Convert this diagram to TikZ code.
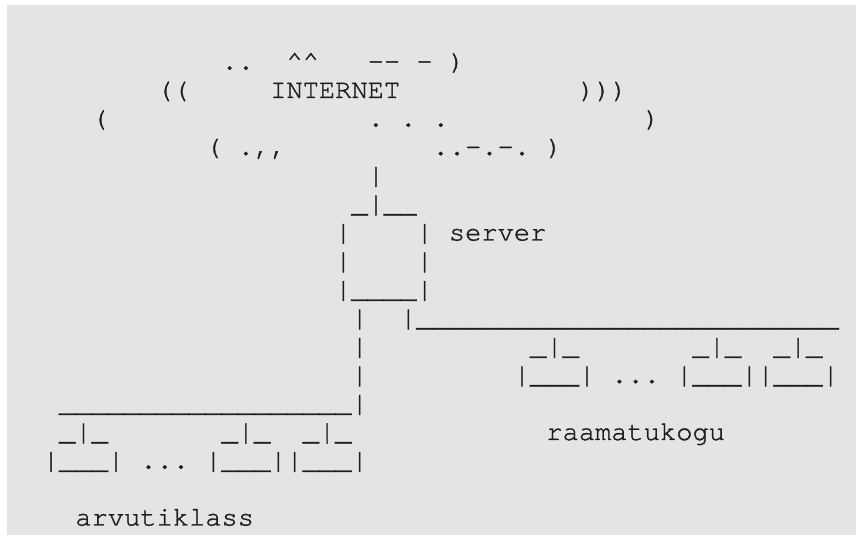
\documentclass[tikz,border=0pt]{standalone}
\usepackage{fontspec}
\setmonofont[FakeBold=1.2]{texgyrecursor-regular.otf}
\definecolor{bggray}{HTML}{E4E4E4}
\definecolor{ink}{HTML}{1E1E1E}
\newcommand\artfont{\fontsize{27.07}{28.5}\selectfont\ttfamily}
\newcommand\artrow[4]{\node[art, name=#1] at ({42.9+16.24*#3},{535-69.5-28.5*#2}) {#4};}
\newcommand\us{\_}
\newcommand\ca{\textasciicircum}
\begin{document}
\begin{tikzpicture}[x=1pt,y=1pt,
  art/.style={anchor=base west, inner sep=0pt, outer sep=0pt, font=\artfont, text=ink}]
\useasboundingbox (0,0) rectangle (856,535);
\fill[white] (0,0) rectangle (856,535);
\fill[bggray] (7,0) rectangle (856,530);
% cloud
\artrow{c0a}{0}{11}{..}
\artrow{c0b}{0}{15}{\ca\ca}
\artrow{c0c}{0}{20}{--~-~)}
\artrow{c1a}{1}{7}{((}
\artrow{c1b}{1}{14}{INTERNET}
\artrow{c1c}{1}{33}{)))}
\artrow{c2a}{2}{3}{(}
\artrow{c2b}{2}{20}{.~.~.}
\artrow{c2c}{2}{37}{)}
\artrow{c3a}{3}{10}{(~.,,}
\artrow{c3b}{3}{24}{..-.-.~)}
% server
\artrow{s4}{4}{20}{|}
\artrow{s5}{5}{19}{\us|\us\us}
\artrow{s6}{6}{18}{|~~~~|~server}
\artrow{s7}{7}{18}{|~~~~|}
\artrow{s8}{8}{18}{|\us\us\us\us|}
\artrow{s9}{9}{19}{|~~|\us\us\us\us\us\us\us\us\us\us\us\us\us\us\us\us\us\us\us\us\us\us\us\us\us\us}
% library branch
\artrow{v10}{10}{19}{|}
\artrow{l10a}{10}{30}{\us|\us}
\artrow{l10b}{10}{40}{\us|\us}
\artrow{l10c}{10}{45}{\us|\us}
\artrow{v11}{11}{19}{|}
\artrow{l11}{11}{29}{|\us\us\us|~...~|\us\us\us||\us\us\us|}
% classroom branch
\artrow{a12}{12}{1}{\us\us\us\us\us\us\us\us\us\us\us\us\us\us\us\us\us\us|}
\artrow{a13a}{13}{1}{\us|\us}
\artrow{a13b}{13}{11}{\us|\us}
\artrow{a13c}{13}{16}{\us|\us}
\artrow{lib}{13}{31}{raamatukogu}
\artrow{a14}{14}{0}{|\us\us\us|~...~|\us\us\us||\us\us\us|}
\artrow{cls}{16}{2}{arvutiklass}
\end{tikzpicture}
\end{document}
